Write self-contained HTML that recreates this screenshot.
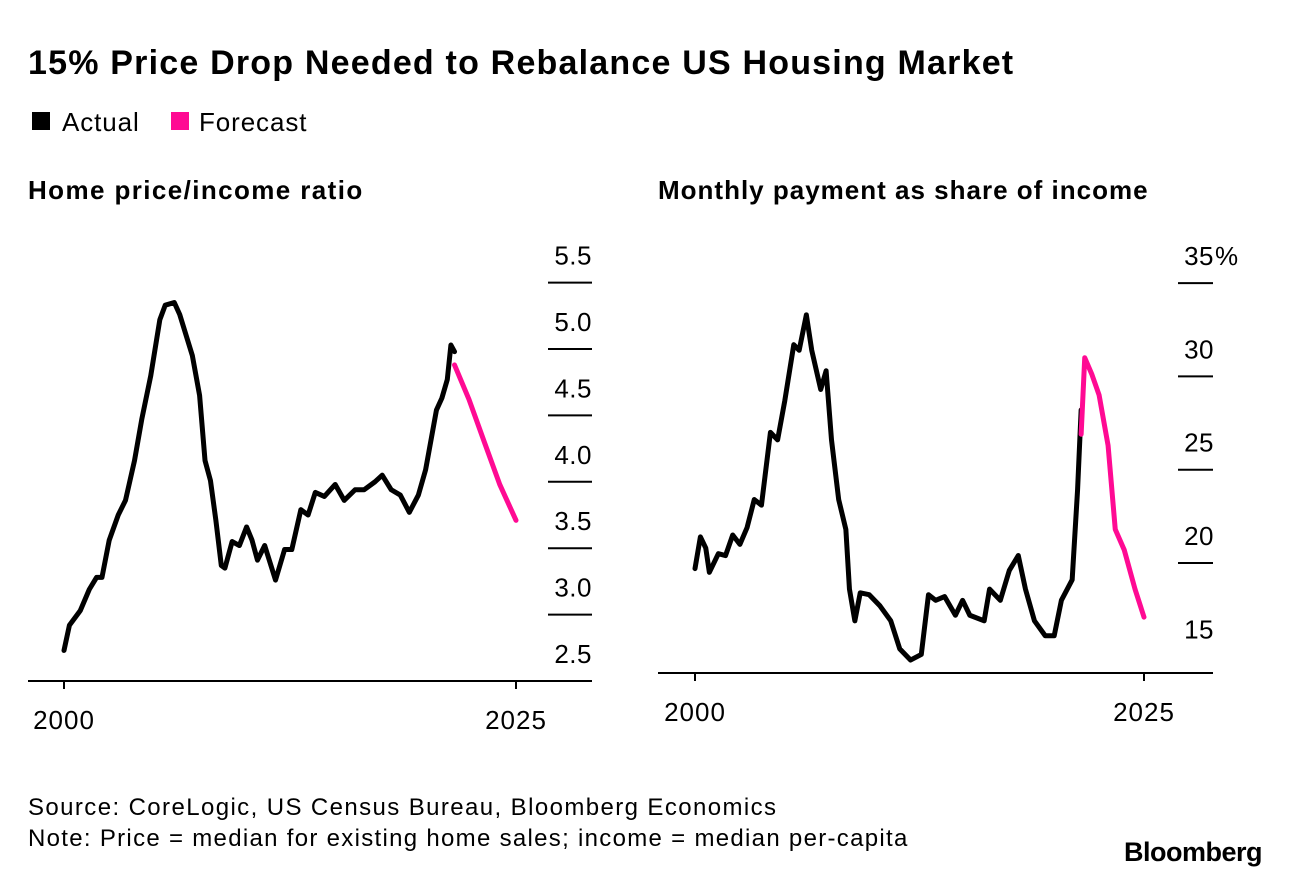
<!DOCTYPE html>
<html><head><meta charset="utf-8"><style>
body{margin:0;background:#fff;width:1290px;height:876px;overflow:hidden;font-family:"Liberation Sans",sans-serif;}
svg text{font-family:"Liberation Sans",sans-serif;}
</style></head><body>
<svg width="1290" height="876">
<text x="28" y="74" font-size="34" font-weight="bold" letter-spacing="1.2">15% Price Drop Needed to Rebalance US Housing Market</text>
<g>
<rect x="32" y="112" width="18" height="18" fill="#000"/>
<text x="62" y="131" font-size="26" letter-spacing="0.9">Actual</text>
<rect x="171" y="112" width="18" height="18" fill="#ff0a93"/>
<text x="199" y="131" font-size="26" letter-spacing="0.9">Forecast</text>
</g>
<text x="28" y="199" font-size="26" font-weight="bold" letter-spacing="1.4">Home price/income ratio</text>
<text x="658" y="199" font-size="26" font-weight="bold" letter-spacing="1">Monthly payment as share of income</text>
<g id="left"></g><g id="right"></g>
<text x="28" y="815" font-size="24" letter-spacing="1.4">Source: CoreLogic, US Census Bureau, Bloomberg Economics</text>
<text x="28" y="846" font-size="24" letter-spacing="1.3">Note: Price = median for existing home sales; income = median per-capita</text>
<text x="1262" y="861" font-size="27" font-weight="bold" text-anchor="end" letter-spacing="-0.5">Bloomberg</text>
</svg>
<script>
const leftYears=[2000,2000.3,2000.9,2001.4,2001.8,2002.1,2002.5,2003.0,2003.4,2003.9,2004.3,2004.8,2005.3,2005.6,2006.1,2006.4,2007.1,2007.5,2007.8,2008.1,2008.4,2008.7,2008.9,2009.3,2009.7,2010.1,2010.4,2010.7,2011.1,2011.7,2012.2,2012.6,2013.1,2013.5,2013.9,2014.4,2015.0,2015.5,2016.1,2016.6,2017.2,2017.6,2018.1,2018.6,2019.1,2019.6,2020.0,2020.2,2020.6,2020.9,2021.2,2021.4,2021.6];
const leftActual=[2.73,2.92,3.03,3.19,3.28,3.28,3.56,3.75,3.86,4.16,4.47,4.8,5.22,5.33,5.35,5.26,4.95,4.65,4.16,4.01,3.71,3.37,3.35,3.55,3.52,3.66,3.56,3.41,3.52,3.26,3.49,3.49,3.79,3.75,3.92,3.89,3.98,3.86,3.94,3.94,4.0,4.05,3.94,3.90,3.77,3.90,4.09,4.24,4.54,4.63,4.77,5.03,4.98];
const leftFcYears=[2021.6,2022.4,2023.3,2024.1,2025];
const leftForecast=[4.88,4.62,4.28,3.98,3.71];
const leftTicks=[2.5,3.0,3.5,4.0,4.5,5.0,5.5];
const leftTickLabels=["2.5","3.0","3.5","4.0","4.5","5.0","5.5"];
const rightYears=[2000,2000.3,2000.6,2000.8,2001.3,2001.7,2002.1,2002.5,2002.9,2003.3,2003.7,2004.2,2004.6,2005.0,2005.5,2005.8,2006.2,2006.5,2007.0,2007.3,2007.6,2008.0,2008.4,2008.6,2008.9,2009.2,2009.7,2010.3,2010.9,2011.4,2012.0,2012.6,2013.0,2013.4,2013.9,2014.5,2014.9,2015.3,2016.1,2016.4,2017.0,2017.5,2018.0,2018.4,2018.9,2019.5,2020.0,2020.4,2021.0,2021.3,2021.5];
const rightActual=[19.7,21.4,20.8,19.5,20.5,20.4,21.5,21.0,21.9,23.4,23.1,27.0,26.6,28.7,31.7,31.4,33.3,31.4,29.3,30.3,26.6,23.4,21.8,18.6,16.9,18.4,18.3,17.7,16.9,15.4,14.8,15.1,18.3,18.0,18.2,17.2,18.0,17.2,16.9,18.6,18.0,19.6,20.4,18.6,16.9,16.1,16.1,18.0,19.1,23.9,28.2];
const rightFcYears=[2021.5,2021.7,2022.1,2022.5,2023.0,2023.4,2023.9,2024.5,2025];
const rightForecast=[26.9,31.0,30.1,29.0,26.3,21.8,20.7,18.6,17.1];
const rightTicks=[15,20,25,30,35];
const rightTickLabels=["15","20","25","30","35"];
const xTickYears=[2000,2025];
const NS="http://www.w3.org/2000/svg";
function mk(p,t,a){const e=document.createElementNS(NS,t);for(const k in a)e.setAttribute(k,a[k]);p.appendChild(e);return e;}
function draw(g,cfg){
 const xs=y=>cfg.x0+(y-2000)*(cfg.x1-cfg.x0)/25;
 const ys=v=>cfg.yRef-(v-cfg.vRef)*cfg.k;
 const base=mk(g,'line',{x1:cfg.bx0,x2:cfg.bx1,y1:cfg.baseY,y2:cfg.baseY,stroke:'#000','stroke-width':2});
 
 
 xTickYears.forEach(yr=>{
  const t=mk(g,'line',{x1:xs(yr),x2:xs(yr),y1:cfg.baseY,y2:cfg.baseY+8,stroke:'#000','stroke-width':2});
  
  
  const l=mk(g,'text',{x:xs(yr),y:cfg.baseY+48,'font-size':26,'letter-spacing':1,'text-anchor':'middle'});
  l.textContent=yr;
  
  
 });
 cfg.ticks.forEach((v,i)=>{
  const y=ys(v);
  if(y<cfg.baseY-20){
   const t=mk(g,'line',{x1:cfg.tx0,x2:cfg.tx1,y1:y,y2:y,stroke:'#000','stroke-width':2});
   
   
  }
  const l=mk(g,'text',{x:cfg.lx,y:y-18,'font-size':26,'letter-spacing':0.5,'text-anchor':'end'});
  l.textContent=cfg.labels[i];
  
  
  if(cfg.pct && i===cfg.ticks.length-1){
   const pc=mk(g,'text',{x:cfg.lx+1,y:y-18,'font-size':26,'text-anchor':'start'});
   pc.textContent='%';
   
   
  }
 });
 const pa=mk(g,'polyline',{points:cfg.ay.map((yr,i)=>xs(yr)+','+ys(cfg.av[i])).join(' '),fill:'none',stroke:'#000','stroke-width':5,'stroke-linejoin':'round','stroke-linecap':'round'});
 
 
 const pf=mk(g,'polyline',{points:cfg.fy.map((yr,i)=>xs(yr)+','+ys(cfg.fv[i])).join(' '),fill:'none',stroke:'#ff0a93','stroke-width':5,'stroke-linejoin':'round','stroke-linecap':'round'});
 
 
}
draw(document.getElementById('left'),{p:'left',x0:64,x1:516,yRef:681,vRef:2.5,k:132.8,baseY:681,bx0:28,bx1:592,tx0:548,tx1:592,lx:592,pct:false,ticks:leftTicks,labels:leftTickLabels,ay:leftYears,av:leftActual,fy:leftFcYears,fv:leftForecast});
draw(document.getElementById('right'),{p:'right',x0:695,x1:1144,yRef:563,vRef:20,k:18.66,baseY:673,bx0:658,bx1:1213,tx0:1178,tx1:1213,lx:1214,pct:true,ticks:rightTicks,labels:rightTickLabels,ay:rightYears,av:rightActual,fy:rightFcYears,fv:rightForecast});
document.getElementById('left');
document.getElementById('left');
document.getElementById('right');
document.getElementById('right');
</script>
</body></html>
